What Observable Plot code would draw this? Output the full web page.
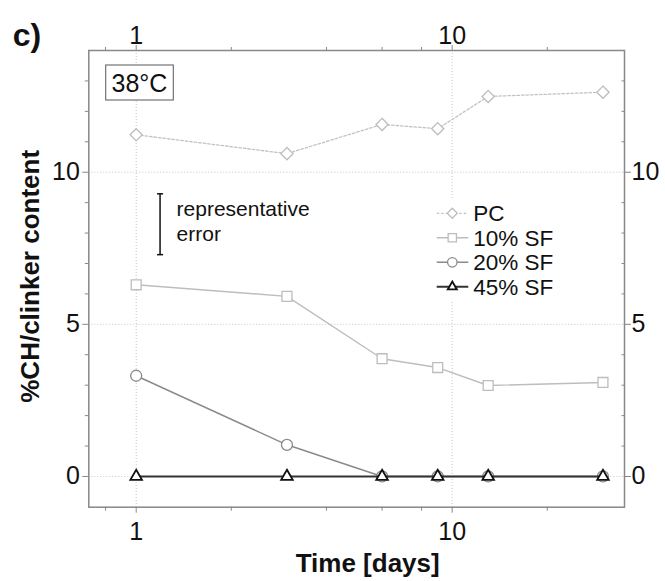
<!DOCTYPE html>
<html><head><meta charset="utf-8">
<style>
html,body{margin:0;padding:0;background:#fff;}
#chart{width:665px;height:581px;}
</style>
<script src="https://cdn.jsdelivr.net/npm/d3@7"></script>
<script src="https://cdn.jsdelivr.net/npm/@observablehq/plot@0.6"></script>
</head><body><div id="chart"></div>
<script>
// ---- data ----
const days = [1, 3, 6, 9, 13, 30];
const pc   = [11.23, 10.61, 11.57, 11.43, 12.49, 12.63];
const sf10 = [6.30, 5.92, 3.87, 3.58, 2.99, 3.09];
const sf20 = [3.31, 1.04, 0, 0, 0, 0];
const sf45 = [0, 0, 0, 0, 0, 0];
const seriesNames = ["PC", "10% SF", "20% SF", "45% SF"];
const xMajorTicks = [1, 10];
const xMinorTicks = [0.8, 2, 4, 6, 8, 20];
const yMajorTicks = [0, 5, 10];
const yMinorTicks = [1, 2, 3, 4, 6, 7, 8, 9, 11, 12, 13];
const errorBar = [{day: 1.19, value: 8.29, err: 1.0}];
const tempLabel = "38°C";
const errorLabel = "representative\nerror";
const panelLabel = "c)";
const xTitle = "Time [days]";
const yTitle = "%CH/clinker content";

// ---- styles ----
const styles = [
  {stroke: "#c2c2c2", dash: "2.5,2", width: 1.3, symbol: "diamond2", d3sym: d3.symbolDiamond2, r: 5.5, mstroke: "#bdbdbd", sw: 1.3, lsize: 64},
  {stroke: "#bdbdbd", dash: null, width: 1.4, symbol: "square", d3sym: d3.symbolSquare, r: 5.6, mstroke: "#bdbdbd", sw: 1.3, lsize: 69},
  {stroke: "#8a8a8a", dash: null, width: 1.5, symbol: "circle", d3sym: d3.symbolCircle, r: 5.5, mstroke: "#8a8a8a", sw: 1.3, lsize: 71},
  {stroke: "#333333", dash: null, width: 2.0, symbol: "triangle", d3sym: d3.symbolTriangle, r: 4.3, mstroke: "#111111", sw: 1.8, lsize: 36}
];
const seriesValues = [pc, sf10, sf20, sf45];
const tables = seriesValues.map(vals => days.map((d, i) => ({day: d, value: vals[i]})));
const errorCaps = errorBar.flatMap(d => [{day: d.day, value: d.value - d.err}, {day: d.day, value: d.value + d.err}]);
const capSymbol = {draw(ctx, size) { const w = Math.sqrt(size) / 2; ctx.moveTo(-w, 0); ctx.lineTo(w, 0); }};

const FONT = "'Liberation Sans', Arial, Helvetica, sans-serif";
const frameGray = "#888888";
const gridGray = "#c6c6c6";

const seriesMarks = tables.flatMap((t, i) => {
  const s = styles[i];
  return [
    Plot.line(t, {x: "day", y: "value", stroke: s.stroke, strokeWidth: s.width, strokeDasharray: s.dash}),
    Plot.dot(t, {x: "day", y: "value", symbol: s.symbol, r: s.r, stroke: s.mstroke, strokeWidth: s.sw, fill: "white"})
  ];
});

const chart = Plot.plot({
  width: 665,
  height: 581,
  marginLeft: 88.3,
  marginRight: 41,
  marginTop: 50,
  marginBottom: 74.3,
  style: {fontFamily: FONT, background: "white", color: "#111"},
  x: {type: "log", domain: [0.708, 35.1]},
  y: {domain: [-1.01, 14.0]},
  marks: [
    Plot.gridX(xMajorTicks, {stroke: gridGray, strokeOpacity: 1, strokeDasharray: "1,2"}),
    Plot.gridY(yMajorTicks, {stroke: gridGray, strokeOpacity: 1, strokeDasharray: "1,2"}),
    // bottom axis
    Plot.axisX(xMajorTicks, {anchor: "bottom", tickSize: 6, tickPadding: 9.5, fontSize: 25, stroke: frameGray, fill: "#111", tickFormat: d => String(d), label: null}),
    Plot.axisX(xMinorTicks, {anchor: "bottom", tickSize: 4, fill: "none", stroke: frameGray, label: null}),
    // top axis
    Plot.axisX(xMajorTicks, {anchor: "top", tickSize: 6, tickPadding: 1, fontSize: 25, stroke: frameGray, fill: "#111", tickFormat: d => String(d), label: null}),
    Plot.axisX(xMinorTicks, {anchor: "top", tickSize: 4, fill: "none", stroke: frameGray, label: null}),
    // left axis
    Plot.axisY(yMajorTicks, {anchor: "left", tickSize: 6, tickPadding: 3, fontSize: 25, stroke: frameGray, fill: "#111", tickFormat: d => String(d), label: null}),
    Plot.axisY(yMinorTicks, {anchor: "left", tickSize: 3.5, fill: "none", stroke: frameGray, label: null}),
    // right axis
    Plot.axisY(yMajorTicks, {anchor: "right", tickSize: 6, tickPadding: 1, fontSize: 25, stroke: frameGray, fill: "#111", tickFormat: d => String(d), label: null}),
    Plot.axisY(yMinorTicks, {anchor: "right", tickSize: 3.5, dx: -3.5, fill: "none", stroke: frameGray, label: null}),
    Plot.frame({stroke: frameGray, strokeWidth: 1.5}),
    // error bar annotation
    Plot.ruleX(errorBar, {x: "day", y1: d => d.value - d.err, y2: d => d.value + d.err, stroke: "#111", strokeWidth: 1.5}),
    Plot.dot(errorCaps, {x: "day", y: "value", symbol: capSymbol, r: 3.4, stroke: "#111", strokeWidth: 1.5, fill: "none"}),
    Plot.text(errorBar, {x: "day", y: "value", text: () => errorLabel, textAnchor: "start", lineAnchor: "middle", dx: 16.5, dy: -3.6, fontSize: 21, lineHeight: 1.19, fill: "#111"}),
    ...seriesMarks,
    // titles
    Plot.text([xTitle], {frameAnchor: "bottom", text: d => d, lineAnchor: "bottom", dy: 65, dx: 11, fontSize: 26, fontWeight: "bold", fill: "#111"}),
    Plot.text([yTitle], {frameAnchor: "left", text: d => d, rotate: -90, lineAnchor: "middle", textAnchor: "middle", dx: -58.3, dy: -2.5, fontSize: 26, fontWeight: "bold", fill: "#111"}),
    Plot.text([panelLabel], {frameAnchor: "top-left", text: d => d, textAnchor: "start", lineAnchor: "bottom", dx: -76, dy: -5, fontSize: 32, fontWeight: "bold", fill: "#111"})
  ]
});

document.getElementById("chart").appendChild(chart);

// ---- temperature box and legend ----
const svg = d3.select(chart);
const box = svg.append("g");
box.append("rect").attr("x", 105.7).attr("y", 65).attr("width", 67.6).attr("height", 35)
  .attr("fill", "white").attr("stroke", "#666").attr("stroke-width", 1.1);
box.append("text").attr("x", 139.5).attr("y", 91.7).attr("text-anchor", "middle")
  .attr("font-size", 25).attr("font-family", FONT).attr("fill", "#111").text(tempLabel);

const legend = svg.append("g").attr("text-anchor", "start");
legend.append("rect").attr("x", 430).attr("y", 198).attr("width", 135).attr("height", 102).attr("fill", "white");
seriesNames.forEach((name, i) => {
  const s = styles[i];
  const yy = 213.3 + i * 24.5;
  const ln = legend.append("line").attr("x1", 436.7).attr("x2", 468.3).attr("y1", yy).attr("y2", yy)
    .attr("stroke", s.stroke).attr("stroke-width", s.width);
  if (s.dash) ln.attr("stroke-dasharray", s.dash);
  legend.append("path").attr("d", d3.symbol(s.d3sym, s.lsize)())
    .attr("transform", `translate(452.3,${yy})`)
    .attr("fill", "white").attr("stroke", s.mstroke).attr("stroke-width", s.sw);
  legend.append("text").attr("x", 473.2).attr("y", yy + 8).attr("font-size", 22.5)
    .attr("text-anchor", "start")
    .attr("font-family", FONT).attr("fill", "#111").text(name);
});
</script>
</body></html>
